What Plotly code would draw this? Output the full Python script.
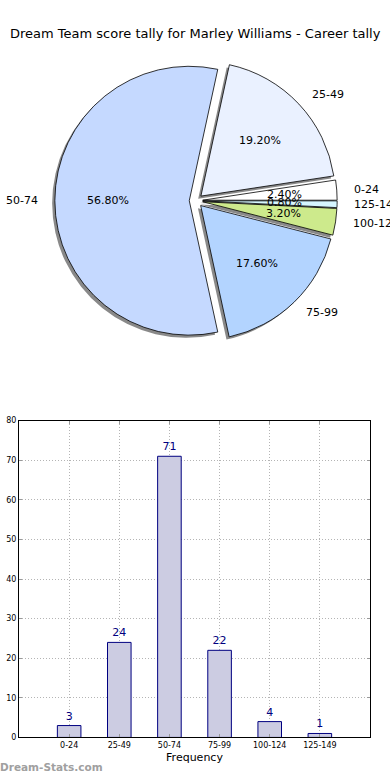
import math
import plotly.graph_objects as go

title = "Dream Team score tally for Marley Williams - Career tally"
categories = ["0-24", "25-49", "50-74", "75-99", "100-124", "125-149"]
counts = [3, 24, 71, 22, 4, 1]
pie_colors = ["#ffffff", "#eaf1ff", "#c5d9ff", "#b3d4ff", "#cdea8c", "#d6f6ff"]
y_ticks = [0, 10, 20, 30, 40, 50, 60, 70, 80]

W, H = 390, 780
cx, cy, r = 196, 199, 136
explode = 0.05
half = r * (1 + explode)
total = sum(counts)
# matplotlib starts at 3 o'clock counterclockwise; plotly's counterclockwise
# mode ends the first slice at `rotation`, so shift by the first slice angle.
rotation = 90 - 360 * counts[0] / total

dom_x = [(cx - half) / W, (cx + half) / W]
dom_y = [1 - (cy + half) / H, 1 - (cy - half) / H]
sh_dx, sh_dy = -2.7 / W, -2.7 / H

fig = go.Figure()
fig.add_trace(go.Pie(
    labels=categories, values=counts, sort=False, direction="counterclockwise",
    rotation=rotation, pull=[explode] * len(counts),
    marker=dict(colors=["rgba(40,40,40,0.55)"] * len(counts), line=dict(width=0)),
    textinfo="none", hoverinfo="skip", showlegend=False,
    domain=dict(x=[dom_x[0] + sh_dx, dom_x[1] + sh_dx], y=[dom_y[0] + sh_dy, dom_y[1] + sh_dy]),
))
fig.add_trace(go.Pie(
    labels=categories, values=counts, sort=False, direction="counterclockwise",
    rotation=rotation, pull=[explode] * len(counts),
    marker=dict(colors=pie_colors, line=dict(color="black", width=0.8)),
    textinfo="none", showlegend=False,
    domain=dict(x=dom_x, y=dom_y),
))

annotations = []
cum = 0
for lab, v in zip(categories, counts):
    frac = v / total
    theta = 2 * math.pi * (cum + frac / 2)
    cum += frac
    c, s = math.cos(theta), math.sin(theta)
    px = cx + (explode + 0.6) * r * c
    py = cy - (explode + 0.6) * r * s
    annotations.append(dict(
        x=px / W, y=1 - py / H, xref="paper", yref="paper", showarrow=False,
        text=f"{frac*100:.2f}%", xanchor="center", yanchor="middle",
        font=dict(size=11, color="black", family="DejaVu Sans"),
    ))
    lx = cx + (explode + 1.1) * r * c
    ly = cy - (explode + 1.1) * r * s
    annotations.append(dict(
        x=lx / W, y=1 - ly / H, xref="paper", yref="paper", showarrow=False,
        text=lab, xanchor="left" if c > 0 else "right", yanchor="middle",
        font=dict(size=11, color="black", family="DejaVu Sans"),
    ))

annotations.append(dict(
    x=0.5, y=1 - 30 / H, xref="paper", yref="paper", showarrow=False,
    text=title, xanchor="center", yanchor="middle",
    font=dict(size=13, color="black", family="DejaVu Sans"),
))
annotations.append(dict(
    x=-0.005, y=1 - 772 / H, xref="paper", yref="paper", showarrow=False,
    text="<b>Dream-Stats.com</b>", xanchor="left", yanchor="middle",
    font=dict(size=10.5, color="#a0a0a0", family="DejaVu Sans"),
))

fig.add_trace(go.Bar(
    x=categories, y=counts, width=0.47,
    marker=dict(color="#ccccE2", line=dict(color="#000080", width=1)),
    text=[str(v) for v in counts], textposition="outside",
    textfont=dict(size=11, color="#000080", family="DejaVu Sans"),
    cliponaxis=False, showlegend=False,
    xaxis="x", yaxis="y",
))

fig.update_layout(
    width=W, height=H, margin=dict(l=0, r=0, t=0, b=0),
    paper_bgcolor="white", plot_bgcolor="white",
    annotations=annotations,
    xaxis=dict(
        domain=[19 / W, 370 / W], range=[-1, 6], type="category",
        showline=True, mirror="ticks", linecolor="black", linewidth=1,
        ticks="inside", ticklen=3, tickcolor="#999999",
        showgrid=True, gridcolor="#b4b4b4", griddash="1px,2px", gridwidth=1,
        tickfont=dict(size=8, color="black", family="DejaVu Sans"),
        title=dict(text="Frequency", font=dict(size=11, color="black", family="DejaVu Sans"), standoff=4),
        zeroline=False,
    ),
    yaxis=dict(
        domain=[1 - 742 / H, 1 - 421.5 / H], range=[0, 80], tickvals=y_ticks,
        showline=True, mirror="ticks", linecolor="black", linewidth=1,
        ticks="inside", ticklen=3, tickcolor="#999999",
        showgrid=True, gridcolor="#b4b4b4", griddash="1px,2px", gridwidth=1,
        tickfont=dict(size=8, color="black", family="DejaVu Sans"),
        zeroline=False,
    ),
    font=dict(family="DejaVu Sans"),
)

fig.write_html(
    "out.html",
    config={"displayModeBar": False},
    post_script="document.body.style.margin='0';document.documentElement.style.overflow='hidden';document.body.style.overflow='hidden';",
)
